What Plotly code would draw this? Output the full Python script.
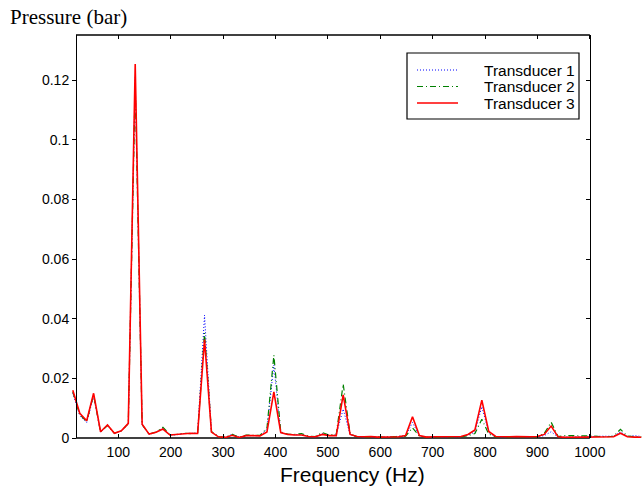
import plotly.graph_objects as go

# ---------------- data ----------------
FREQ_HZ = [
    13.2, 26.5, 39.7, 52.9, 66.2, 79.4, 92.6, 105.8, 119.1, 132.3,
    145.5, 158.8, 172.0, 185.2, 198.5, 211.7, 224.9, 238.1, 251.4, 264.6,
    277.8, 291.1, 304.3, 317.5, 330.8, 344.0, 357.2, 370.4, 383.7, 396.9,
    410.1, 423.4, 436.6, 449.8, 463.1, 476.3, 489.5, 502.7, 516.0, 529.2,
    542.4, 555.7, 568.9, 582.1, 595.4, 608.6, 621.8, 635.0, 648.3, 661.5,
    674.7, 688.0, 701.2, 714.4, 727.7, 740.9, 754.1, 767.3, 780.6, 793.8,
    807.0, 820.3, 833.5, 846.7, 860.0, 873.2, 886.4, 899.6, 912.9, 926.1,
    939.3, 952.6, 965.8, 979.0, 992.3, 1005.5, 1018.7, 1031.9, 1045.2, 1058.4,
    1071.6, 1084.9, 1098.1,
]

TRANSDUCER_1 = [
    0.0150, 0.0075, 0.0052, 0.0140, 0.0020, 0.0042, 0.0015, 0.0023, 0.0047, 0.1210,
    0.0044, 0.0012, 0.0019, 0.0034, 0.0010, 0.0011, 0.0015, 0.0015, 0.0016, 0.0412,
    0.0021, 0.0005, 0.0002, 0.0013, 0.0003, 0.0008, 0.0008, 0.0008, 0.0030, 0.0245,
    0.0018, 0.0012, 0.0011, 0.0012, 0.0005, 0.0004, 0.0015, 0.0008, 0.0010, 0.0097,
    0.0011, 0.0004, 0.0003, 0.0004, 0.0003, 0.0003, 0.0004, 0.0004, 0.0007, 0.0052,
    0.0007, 0.0003, 0.0003, 0.0003, 0.0004, 0.0003, 0.0004, 0.0010, 0.0020, 0.0105,
    0.0018, 0.0004, 0.0003, 0.0003, 0.0004, 0.0003, 0.0004, 0.0004, 0.0008, 0.0021,
    0.0003, 0.0003, 0.0003, 0.0003, 0.0003, 0.0005, 0.0006, 0.0005, 0.0006, 0.0021,
    0.0005, 0.0008, 0.0005,
]

TRANSDUCER_2 = [
    0.0155, 0.0078, 0.0055, 0.0145, 0.0020, 0.0042, 0.0016, 0.0024, 0.0048, 0.1190,
    0.0045, 0.0013, 0.0020, 0.0036, 0.0011, 0.0012, 0.0016, 0.0015, 0.0017, 0.0352,
    0.0022, 0.0004, 0.0002, 0.0012, 0.0003, 0.0010, 0.0009, 0.0009, 0.0032, 0.0278,
    0.0020, 0.0013, 0.0012, 0.0015, 0.0006, 0.0005, 0.0018, 0.0010, 0.0013, 0.0181,
    0.0014, 0.0004, 0.0003, 0.0004, 0.0003, 0.0003, 0.0004, 0.0004, 0.0006, 0.0034,
    0.0006, 0.0003, 0.0003, 0.0003, 0.0004, 0.0003, 0.0004, 0.0008, 0.0015, 0.0063,
    0.0013, 0.0004, 0.0003, 0.0003, 0.0004, 0.0003, 0.0004, 0.0004, 0.0015, 0.0053,
    0.0005, 0.0008, 0.0008, 0.0008, 0.0008, 0.0007, 0.0005, 0.0004, 0.0006, 0.0029,
    0.0006, 0.0005, 0.0004,
]

TRANSDUCER_3 = [
    0.0160, 0.0083, 0.0058, 0.0150, 0.0021, 0.0044, 0.0016, 0.0024, 0.0049, 0.1255,
    0.0046, 0.0013, 0.0019, 0.0030, 0.0010, 0.0012, 0.0016, 0.0016, 0.0015, 0.0330,
    0.0020, 0.0004, 0.0002, 0.0009, 0.0002, 0.0008, 0.0008, 0.0007, 0.0020, 0.0155,
    0.0018, 0.0012, 0.0010, 0.0010, 0.0005, 0.0004, 0.0012, 0.0008, 0.0008, 0.0145,
    0.0012, 0.0005, 0.0004, 0.0005, 0.0003, 0.0004, 0.0005, 0.0004, 0.0008, 0.0071,
    0.0008, 0.0003, 0.0004, 0.0004, 0.0005, 0.0004, 0.0005, 0.0012, 0.0027, 0.0127,
    0.0022, 0.0005, 0.0004, 0.0004, 0.0005, 0.0004, 0.0004, 0.0005, 0.0012, 0.0040,
    0.0004, 0.0002, 0.0002, 0.0002, 0.0002, 0.0002, 0.0002, 0.0003, 0.0004, 0.0016,
    0.0004, 0.0003, 0.0002,
]

SERIES_NAMES = ["Transducer 1", "Transducer 2", "Transducer 3"]

X_TICK_VALUES = [100, 200, 300, 400, 500, 600, 700, 800, 900, 1000]
X_TICK_LABELS = ["100", "200", "300", "400", "500", "600", "700", "800", "900", "1000"]
Y_TICK_VALUES = [0, 0.02, 0.04, 0.06, 0.08, 0.10, 0.12]
Y_TICK_LABELS = ["0", "0.02", "0.04", "0.06", "0.08", "0.1", "0.12"]

X_LABEL = "Frequency (Hz)"
Y_LABEL = "Pressure (bar)"

# ---------------- layout constants ----------------
X_RANGE = [11.67, 1103.3]     # visible data window (lines run past the box)
Y_RANGE = [0, 0.1352]
BOX_LEFT_HZ = 19.3            # where the axes box starts
BOX_RIGHT_HZ = 1000.0         # where the axes box ends

FIG_W, FIG_H = 644, 489
# plot area in window pixels
PLOT_L, PLOT_R, PLOT_T, PLOT_B = 72, 644, 35, 438

SANS = "Liberation Sans, Arial, sans-serif"
SERIF = "Liberation Serif, Times New Roman, serif"


def to_paper_x(v):
    return (v - X_RANGE[0]) / (X_RANGE[1] - X_RANGE[0])


def px_x(wx):
    return (wx - PLOT_L) / (PLOT_R - PLOT_L)


def px_y(wy):
    return (PLOT_B - wy) / (PLOT_B - PLOT_T)


fig = go.Figure()

styles = [
    dict(color="rgb(0,0,255)", width=1, dash="1px,2px"),
    dict(color="rgb(0,128,0)", width=1.2, dash="6px,3px,1px,3px"),
    dict(color="rgb(255,0,0)", width=1.6, dash="solid"),
]
for name, ys, st in zip(SERIES_NAMES, [TRANSDUCER_1, TRANSDUCER_2, TRANSDUCER_3], styles):
    fig.add_trace(go.Scatter(x=FREQ_HZ, y=ys, mode="lines", name=name, line=st,
                             showlegend=False))

# invisible companion trace so the mirrored axes (top / right) are rendered
fig.add_trace(go.Scatter(x=FREQ_HZ, y=TRANSDUCER_3, mode="lines", xaxis="x2", yaxis="y2",
                         line=dict(width=0, color="rgba(0,0,0,0)"), showlegend=False,
                         hoverinfo="skip"))

tickfont = dict(family=SANS, size=14, color="black")

shapes = [
    dict(type="line", xref="x", yref="paper", x0=BOX_LEFT_HZ, x1=BOX_RIGHT_HZ, y0=0, y1=0,
         line=dict(color="black", width=1.5), layer="below"),
    dict(type="line", xref="x", yref="paper", x0=BOX_LEFT_HZ, x1=BOX_RIGHT_HZ, y0=1, y1=1,
         line=dict(color="black", width=1.5), layer="below"),
    # legend frame
    dict(type="rect", xref="paper", yref="paper", x0=px_x(407), x1=px_x(579),
         y0=px_y(119), y1=px_y(53), line=dict(color="black", width=1.2),
         fillcolor="white", layer="above"),
]
annotations = [
    dict(text=Y_LABEL, xref="paper", yref="paper", x=px_x(8), y=px_y(17),
         xanchor="left", yanchor="middle", showarrow=False,
         font=dict(family=SERIF, size=21, color="black")),
    dict(text=X_LABEL, xref="paper", yref="paper", x=px_x(352), y=px_y(474),
         xanchor="center", yanchor="middle", showarrow=False,
         font=dict(family=SANS, size=21, color="black")),
]
legend_rows = [70, 86.5, 103]
for name, st, wy in zip(SERIES_NAMES, styles, legend_rows):
    shapes.append(dict(type="line", xref="paper", yref="paper", x0=px_x(417), x1=px_x(458),
                       y0=px_y(wy), y1=px_y(wy), layer="above",
                       line=dict(color=st["color"], width=st["width"], dash=st["dash"])))
    annotations.append(dict(text=name, xref="paper", yref="paper", x=px_x(577), y=px_y(wy),
                            xanchor="right", yanchor="middle", showarrow=False,
                            font=dict(family=SANS, size=15.5, color="black")))

fig.update_layout(
    width=FIG_W, height=FIG_H,
    margin=dict(l=PLOT_L, r=FIG_W - PLOT_R, t=PLOT_T, b=FIG_H - PLOT_B),
    paper_bgcolor="white", plot_bgcolor="white",
    showlegend=False,
    hovermode=False,
    xaxis=dict(range=X_RANGE, tickmode="array", tickvals=X_TICK_VALUES, ticktext=X_TICK_LABELS,
               ticks="inside", ticklen=4, tickcolor="black", tickwidth=1,
               showline=False, showgrid=False, zeroline=False, tickfont=tickfont,
               ticklabelstandoff=4),
    xaxis2=dict(range=X_RANGE, overlaying="x", side="top", anchor="y", tickmode="array",
                tickvals=X_TICK_VALUES, ticks="inside", ticklen=4, tickcolor="black",
                showticklabels=False, showline=False, showgrid=False, zeroline=False),
    yaxis=dict(range=Y_RANGE, tickmode="array", tickvals=Y_TICK_VALUES, ticktext=Y_TICK_LABELS,
               ticks="outside", ticklen=4, tickcolor="black", tickwidth=1,
               anchor="free", position=to_paper_x(BOX_LEFT_HZ),
               showline=True, linecolor="black", linewidth=1.5,
               showgrid=False, zeroline=False, tickfont=tickfont),
    yaxis2=dict(range=Y_RANGE, overlaying="y", side="right", anchor="free",
                position=to_paper_x(BOX_RIGHT_HZ), tickmode="array", tickvals=Y_TICK_VALUES,
                ticks="inside", ticklen=4, tickcolor="black", showticklabels=False,
                showline=True, linecolor="black", linewidth=1.5,
                showgrid=False, zeroline=False),
    shapes=shapes,
    annotations=annotations,
)

# remove the browser's default 8px body margin so the figure fills the window exactly
fig.write_html("out.html",
               config={"displayModeBar": False, "staticPlot": True},
               post_script="document.body.style.margin='0';document.body.style.overflow='hidden';")
